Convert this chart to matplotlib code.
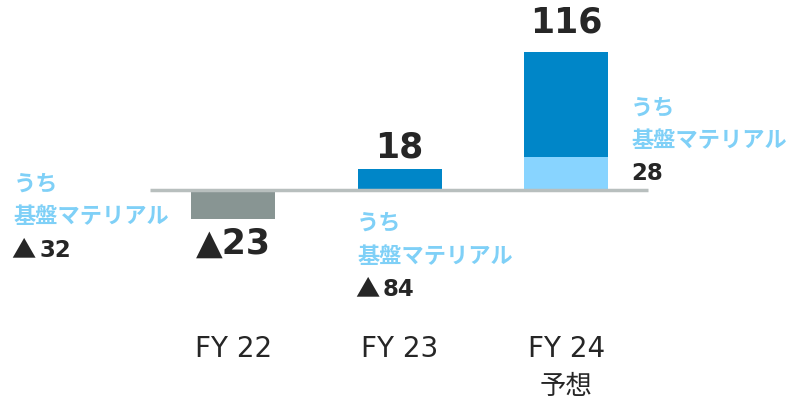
import matplotlib.pyplot as plt

plt.rcParams['font.family'] = ['DejaVu Sans', 'Noto Sans CJK JP']

# data
categories = ["FY 22", "FY 23", "FY 24\n予想"]
totals = [-23, 18, 116]
base_material = [-32, -84, 28]
total_labels = ["▲23", "18", "116"]
base_labels = ["▲32", "▲84", "28"]

gray = "#889593"
blue = "#0086C8"
light_blue = "#88D4FF"
label_blue = "#7FD0F7"
dark = "#262626"

fig = plt.figure(figsize=(7.9, 4.04), dpi=100)
ax = fig.add_axes([0, 0, 1, 1])
ax.set_xlim(-1.4, 3.345)
ax.set_ylim(-179.8, 159.7)
ax.axis("off")

x = [0, 1, 2]
w = 0.505

# bars
ax.bar(x[0], totals[0], width=w, color=gray, bottom=-1.5)
ax.bar(x[1], totals[1], width=w, color=blue)
ax.bar(x[2], base_material[2], width=w, color=light_blue)
ax.bar(x[2], totals[2] - base_material[2], bottom=base_material[2], width=w, color=blue)

ax.hlines(0, -0.5, 2.49, color="#B8BFBE", lw=2.5, zorder=3)

# big value labels
ax.text(x[0], -45, total_labels[0], ha="center", va="center", fontsize=25,
        fontweight="bold", color=dark)
ax.text(x[1], 36, total_labels[1], ha="center", va="center", fontsize=25,
        fontweight="bold", color=dark)
ax.text(x[2], 141, total_labels[2], ha="center", va="center", fontsize=25,
        fontweight="bold", color=dark)

# うち 基盤マテリアル labels
fam = ['Noto Sans CJK JP', 'DejaVu Sans']
spots = [(-1.32, 5), (0.745, -28), (2.39, 69)]
for (lx, ly), lab in zip(spots, base_labels):
    ax.text(lx, ly, "うち", ha="left", va="center", fontsize=16,
            fontweight="bold", color=label_blue, family=fam)
    ax.text(lx, ly - 27.5, "基盤マテリアル", ha="left", va="center", fontsize=16,
            fontweight="bold", color=label_blue, family=fam)
    num = lab
    if lab.startswith("▲"):
        ax.text(lx - 0.01, ly - 55.5, "▲", ha="left", va="center", fontsize=17.5,
                color=dark, family=fam)
        num = lab[1:]
        nx = lx + 0.155
    else:
        nx = lx
    ax.text(nx, ly - 55.5, num, ha="left", va="center", fontsize=16.5,
            fontweight="bold", color=dark)

# category labels
for xi, cat in zip(x, categories):
    lines = cat.split("\n")
    ax.text(xi, -134, lines[0], ha="center", va="center", fontsize=20, color=dark)
    if len(lines) > 1:
        ax.text(xi, -165, lines[1], ha="center", va="center", fontsize=19,
                color=dark, family=fam)

plt.savefig("out.png", dpi=100)
